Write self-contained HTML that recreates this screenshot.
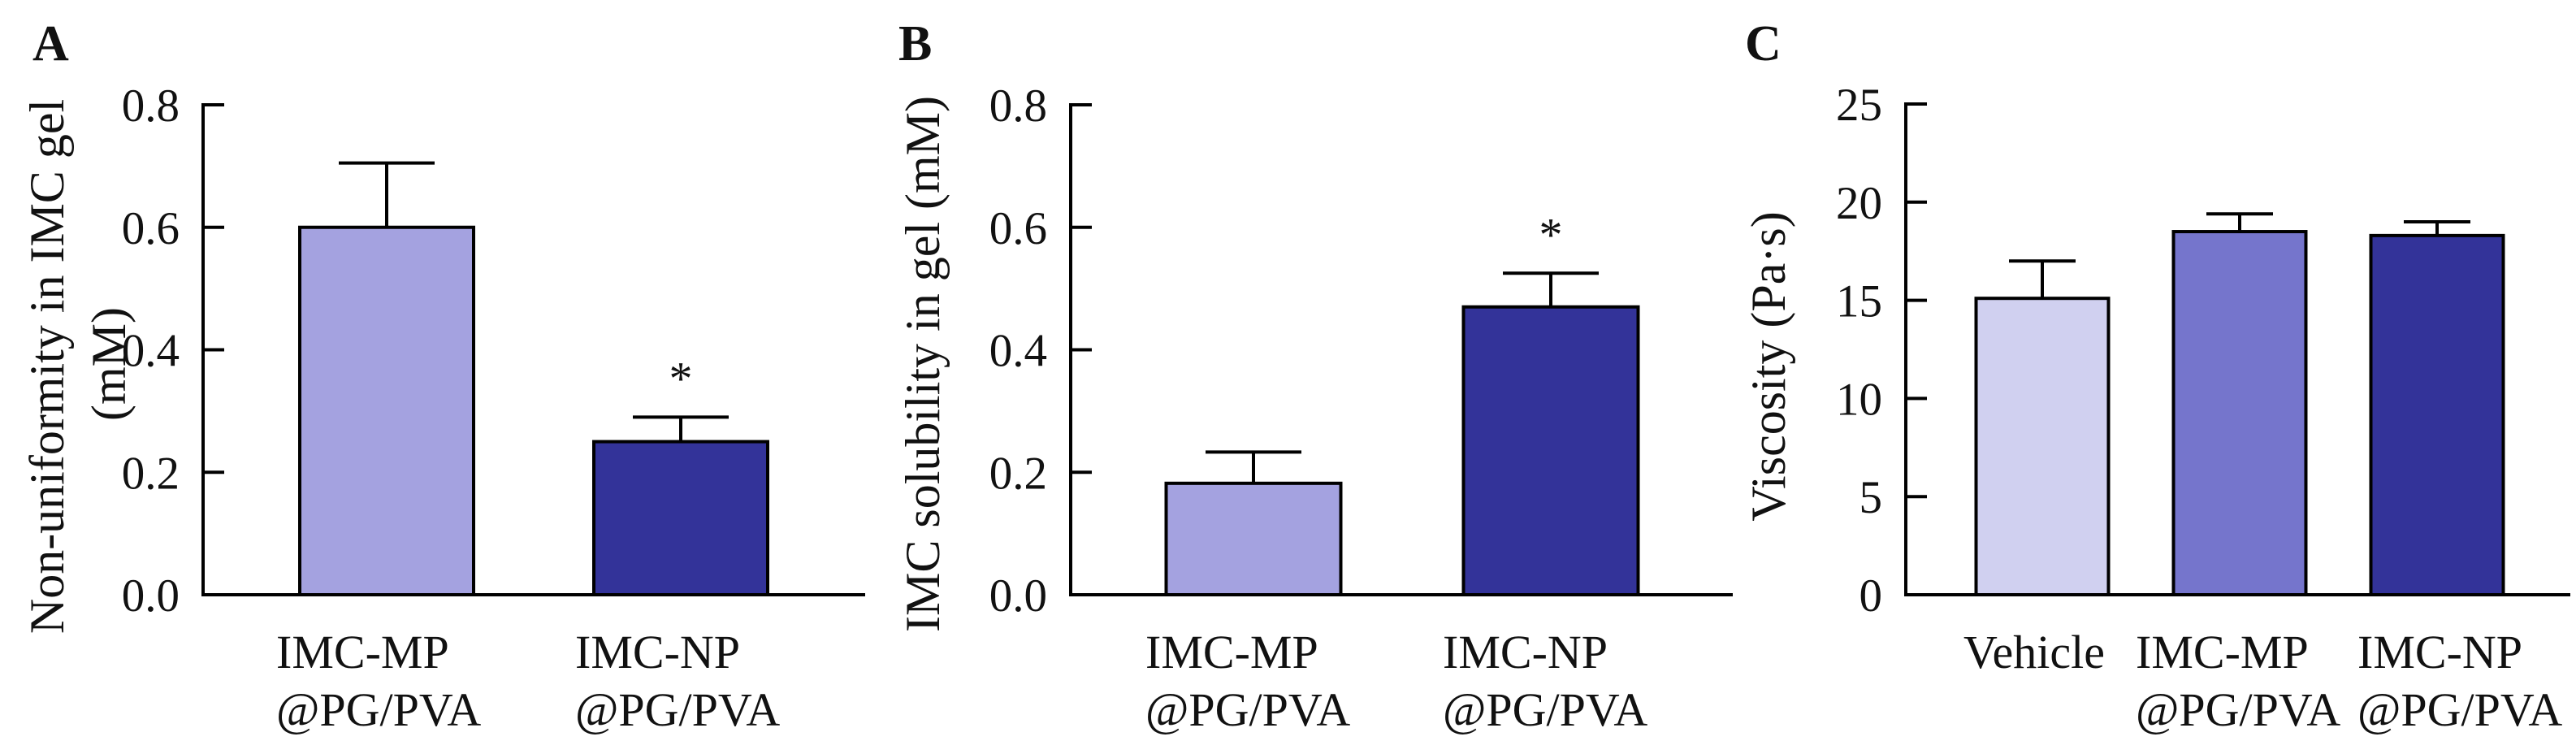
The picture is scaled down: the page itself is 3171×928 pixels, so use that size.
<!DOCTYPE html>
<html><head><meta charset="utf-8"><style>
html,body{margin:0;padding:0;background:#fff;}
svg{display:block;}
text{font-family:"Liberation Serif",serif;fill:#111;}
</style></head><body>
<svg id="fig" width="3171" height="928" viewBox="0 0 3171 928" xmlns="http://www.w3.org/2000/svg">
<text x="40" y="74" font-size="62" font-weight="bold">A</text>
<text x="1106" y="74" font-size="62" font-weight="bold">B</text>
<text x="2148" y="74" font-size="62" font-weight="bold">C</text>
<text transform="translate(78,451) rotate(-90)" text-anchor="middle" font-size="60">Non-uniformity in IMC gel</text>
<text transform="translate(154,448) rotate(-90)" text-anchor="middle" font-size="60">(mM)</text>
<text transform="translate(1156,448) rotate(-90)" text-anchor="middle" font-size="60">IMC solubility in gel (mM)</text>
<text transform="translate(2197,451) rotate(-90)" text-anchor="middle" font-size="60">Viscosity (Pa·s)</text>
</svg>
<script>
// Panel A data
const aCategories = [["IMC-MP","@PG/PVA"],["IMC-NP","@PG/PVA"]];
const aValues = [0.60, 0.25];
const aErrors = [0.105, 0.04];
const aStars = [false, true];
const aTicks = ["0.0","0.2","0.4","0.6","0.8"];
// Panel B data
const bCategories = [["IMC-MP","@PG/PVA"],["IMC-NP","@PG/PVA"]];
const bValues = [0.182, 0.470];
const bErrors = [0.051, 0.055];
const bStars = [false, true];
const bTicks = ["0.0","0.2","0.4","0.6","0.8"];
// Panel C data
const cCategories = [["Vehicle"],["IMC-MP","@PG/PVA"],["IMC-NP","@PG/PVA"]];
const cValues = [15.1, 18.5, 18.3];
const cErrors = [1.9, 0.9, 0.7];
const cStars = [false, false, false];
const cTicks = ["0","5","10","15","20","25"];

const NS = "http://www.w3.org/2000/svg";
const svg = document.getElementById("fig");
function mk(tag, attrs, parent){
  const e = document.createElementNS(NS, tag);
  for (const k in attrs) e.setAttribute(k, attrs[k]);
  (parent||svg).appendChild(e);
  return e;
}
function panel(p){
  const g = mk("g", {});
  
  
  const y = v => p.y0 - (v - p.min) / (p.max - p.min) * (p.y0 - p.y1);
  const ticksV = p.ticks.map(Number);
  const ya = mk("line", {x1:p.ax, y1:y(p.max)-2, x2:p.ax, y2:p.y0+2, stroke:"#000","stroke-width":4}, g);
  
  
  ticksV.forEach((t,i)=>{
    const tl = mk("line", {x1:p.ax, y1:y(t), x2:p.ax+26, y2:y(t), stroke:"#000","stroke-width":4}, g);
    
    
    const tx = mk("text", {x:p.ax-29, y:y(t)+20, "text-anchor":"end", "font-size":57}, g);
    tx.textContent = p.ticks[i];
    
    
  });
  p.values.forEach((v,i)=>{
    const cx = p.centers[i];
    const w = p.barW;
    const err = mk("line", {x1:cx, y1:y(v), x2:cx, y2:y(v+p.errors[i]), stroke:"#000","stroke-width":4}, g);
    
    
    const cap = mk("line", {x1:cx-p.capW/2, y1:y(v+p.errors[i]), x2:cx+p.capW/2, y2:y(v+p.errors[i]), stroke:"#000","stroke-width":4}, g);
    
    
    const r = mk("rect", {x:cx-w/2, y:y(v), width:w, height:y(p.min)-y(v), fill:p.colors[i], stroke:"#000", "stroke-width":4}, g);
    
    
    if (p.stars[i]) {
      const s = mk("text", {x:cx, y:y(v+p.errors[i])-28, "text-anchor":"middle", "font-size":58}, g);
      s.textContent = "*";
      
      
    }
    const lines = p.cats[i];
    lines.forEach((ln,j)=>{
      const single = lines.length === 1;
      const t = mk("text", {x: single ? cx-10 : cx + p.labOff[i], y: 822 + j*71, "text-anchor": single ? "middle" : "start", "font-size":58}, g);
      t.textContent = ln;
      
      
    });
  });
  const xa = mk("line", {x1:p.ax-2, y1:p.y0, x2:p.axEnd, y2:p.y0, stroke:"#000","stroke-width":4}, g);
  
  
}
panel({name:"panel-a", ax:250, axEnd:1065, y0:732, y1:129, min:0, max:0.8, ticks:aTicks,
  values:aValues, errors:aErrors, stars:aStars, cats:aCategories, centers:[476,838], barW:214, capW:118,
  colors:["#a4a2e0","#333399"], labOff:[-136,-130]});
panel({name:"panel-b", ax:1318, axEnd:2133, y0:732, y1:129, min:0, max:0.8, ticks:bTicks,
  values:bValues, errors:bErrors, stars:bStars, cats:bCategories, centers:[1543,1909], barW:215, capW:118,
  colors:["#a4a2e0","#333399"], labOff:[-133,-133]});
panel({name:"panel-c", ax:2346, axEnd:3164, y0:732, y1:128, min:0, max:25, ticks:cTicks,
  values:cValues, errors:cErrors, stars:cStars, cats:cCategories, centers:[2514,2757,3000], barW:163, capW:82,
  colors:["#d0d0f0","#7575cc","#333399"], labOff:[0,-128,-98]});
</script>
</body></html>
